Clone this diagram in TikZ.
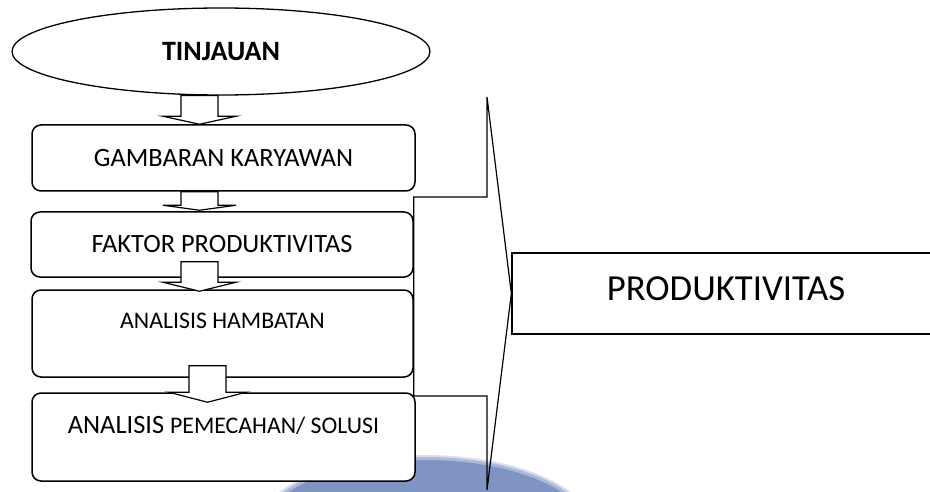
\documentclass[tikz,border=0pt]{standalone}
\usepackage{fontspec}
\setmainfont{Carlito}
\usetikzlibrary{shapes,calc}
\definecolor{watermark}{RGB}{128,148,196}

\begin{document}
\begin{tikzpicture}[x=1pt,y=1pt]
  \tikzstyle{kotak}=[rectangle, draw, line width=1.5pt, rounded corners=9pt, fill=white, inner sep=0pt, minimum width=383pt, font=\fontsize{26.4}{30}\selectfont]
  \tikzstyle{kecil}=[font=\fontsize{23.8}{28}\selectfont]
  \tikzstyle{panah}=[draw, line width=1.2pt, fill=white]

  \clip (0,0) rectangle (930,491);
  \fill[white] (0,0) rectangle (930,491);
  % watermark di bawah
  \fill[watermark!30] (425,-40) ellipse [x radius=170, y radius=76];
  \fill[watermark!65] (425,-40) ellipse [x radius=167, y radius=74];
  \fill[watermark] (425,-40) ellipse [x radius=163, y radius=71];

  \node[ellipse, draw, line width=1.3pt, minimum width=418pt, minimum height=87pt, inner sep=0pt, font=\fontsize{28}{32}\selectfont\bfseries] (tinj) at (221,439.5) {TINJAUAN};
  \node[kotak, minimum height=66pt] (gamb) at (223.5,333) {GAMBARAN KARYAWAN};
  \node[kotak, minimum width=382pt, minimum height=65pt] (faktor) at (222,246.5) {FAKTOR PRODUKTIVITAS};
  \node[kotak, kecil, minimum width=381pt, minimum height=87pt, text height=15.3pt, text depth=25pt] (hamb) at (222.5,157.5) {ANALISIS HAMBATAN};
  \node[kotak, minimum height=88pt, text height=17pt, text depth=24pt] (solusi) at (223.5,54) {ANALISIS {\fontsize{23.8}{28}\selectfont PEMECAHAN/ SOLUSI}};
  \node[rectangle, draw, line width=1.3pt, minimum width=428pt, minimum height=81pt, inner sep=0pt, text height=23.6pt, text depth=10pt, font=\fontsize{36.7}{42}\selectfont] (produk) at (726,197.5) {PRODUKTIVITAS};

  % panah blok antar tahap
  \coordinate (a1) at ($(tinj.south)+(-21.5,0)$);
  \coordinate (b1) at ($(gamb.north)+(-23.5,0)$);
  \coordinate (a2) at ($(gamb.south)+(-24,0)$);
  \coordinate (b2) at ($(faktor.north)+(-22.5,1)$);
  \coordinate (a3) at ($(faktor.south)+(-22.5,16)$);
  \coordinate (b3) at ($(hamb.north)+(-23,-2)$);
  \coordinate (a4) at ($(hamb.south)+(-15,12)$);
  \coordinate (b4) at ($(solusi.north)+(-16,-10)$);
  \foreach \i/\h/\w in {1/8/36.5, 2/5/36.5, 3/9/36.5, 4/10/38.5}
    \draw[panah] let \p1=(a\i), \p2=(b\i) in
      (\x1-18.5pt,\y1) -- (\x1-18.5pt,\y2+\h pt) -- (\x1-\w pt,\y2+\h pt) -- (\x1,\y2)
      -- (\x1+\w pt,\y2+\h pt) -- (\x1+18.5pt,\y2+\h pt) -- (\x1+18.5pt,\y1) -- cycle;

  % kurung menuju produktivitas
  \draw[line width=1.2pt] (faktor.east |- 0,294) -- (487,294) -- (487,394) -- (produk.west)
    -- (487,1) -- (487,95) -- (faktor.east |- 0,95) -- cycle;
\end{tikzpicture}
\end{document}
